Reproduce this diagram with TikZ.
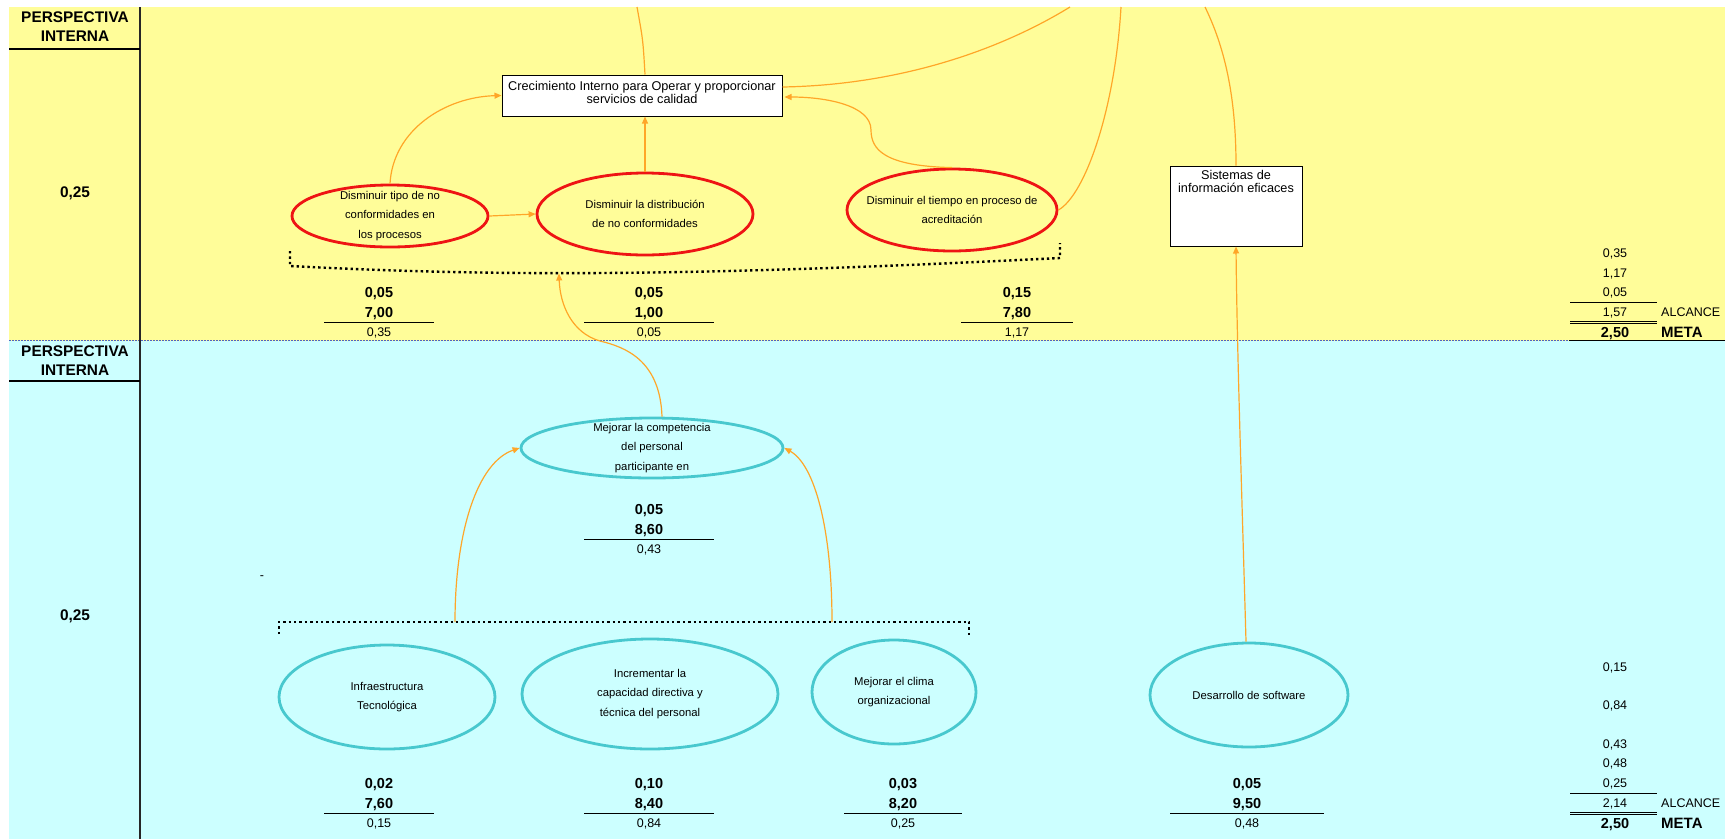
\documentclass[tikz,border=0pt]{standalone}
\usepackage{fontspec}
\setmainfont{Liberation Sans}
\usetikzlibrary{arrows.meta,shapes.geometric,calc}

\definecolor{bandY}{RGB}{255,253,153}
\definecolor{bandC}{RGB}{204,255,255}
\definecolor{redring}{RGB}{238,20,20}
\definecolor{cyanring}{RGB}{72,200,206}
\definecolor{linkc}{RGB}{255,166,40}
\definecolor{pagebrk}{RGB}{80,100,190}

\tikzset{
  x=1pt, y=-1pt,
  redobj/.style={ellipse, draw=redring, line width=2.8pt, inner sep=0pt},
  cyanobj/.style={ellipse, draw=cyanring, line width=2.8pt, inner sep=0pt},
  etext/.style={align=center, inner sep=0pt, font=\fontsize{11.3}{19.5}\selectfont},
  goalbox/.style={rectangle, draw=black, fill=white, line width=1pt, inner sep=0pt},
  btext/.style={align=center, inner sep=0pt, font=\fontsize{12.7}{13.5}\selectfont},
  link/.style={draw=linkc, line width=1.2pt},
  linkarrow/.style={link, -{Triangle[length=7pt,width=6pt]}},
  bnum/.style={inner sep=0pt, text height=10pt, text depth=0pt, font=\fontsize{14.5}{14.5}\selectfont\bfseries},
  rnum/.style={inner sep=0pt, text height=9pt, text depth=0pt, font=\fontsize{12.5}{12.5}\selectfont},
  hdr/.style={align=center, inner sep=0pt, font=\fontsize{15.4}{19}\selectfont\bfseries},
  bracket/.style={line width=2.4pt, dash pattern=on 2.4pt off 3pt},
  rule/.style={line width=1pt},
}

% one score column: weight, rating, rule and weighted result
\newcommand\scorecol[7]{%
  \node[bnum] (#1w) at (#2,#3) {#4};
  \node[bnum] (#1r) at (#2,#3+20) {#5};
  \draw[rule] (#2-#7,#3+30) -- (#2+#7,#3+30);
  \node[rnum] (#1s) at (#2,#3+40) {#6};
}

\begin{document}
\begin{tikzpicture}
\useasboundingbox (0,0) rectangle (1731,839);

% bands
\fill[bandY] (9,7) rectangle (1725,340.5);
\fill[bandC] (9,340.5) rectangle (1725,839);
\draw[pagebrk, line width=1pt, dash pattern=on 1.5pt off 1.5pt] (9,340.5) -- (1569,340.5);
\draw[line width=1.2pt] (1569,340.5) -- (1725,340.5);

% left column
\draw[line width=1.6pt, black!85] (140,7) -- (140,839);
\draw[line width=1.2pt] (9,49) -- (140,49);
\draw[line width=1.2pt] (9,381) -- (140,381);
\node[hdr] (h1) at (75,26.5) {PERSPECTIVA\\INTERNA};
\node[hdr] (w1) at (75,193) {0,25};
\node[hdr] (h2) at (75,360.5) {PERSPECTIVA\\INTERNA};
\node[hdr] (w2) at (75,616) {0,25};

% goals
\node[goalbox, minimum width=280pt, minimum height=41pt] (crec) at (642,95.5) {};
\node[btext] (crect) at (642,92.5) {Crecimiento Interno para Operar y proporcionar\\servicios de calidad};
\node[goalbox, minimum width=132pt, minimum height=80pt] (sist) at (1236,206) {};
\node[btext, anchor=north] (sistt) at (1236,170) {Sistemas de\\información eficaces};

% objectives, upper band
\node[redobj, minimum width=196pt, minimum height=62pt,
  label={[etext]center:Disminuir tipo de no\\conformidades en\\los procesos}] (e1) at (390,216) {};
\node[redobj, minimum width=216pt, minimum height=82pt,
  label={[etext]center:Disminuir la distribución\\de no conformidades}] (e2) at (645,214) {};
\node[redobj, minimum width=210pt, minimum height=82pt,
  label={[etext]center:Disminuir el tiempo en proceso de\\acreditación}] (e3) at (952,210) {};

% objectives, lower band
\node[cyanobj, minimum width=262pt, minimum height=60pt,
  label={[etext]center:Mejorar la competencia\\del personal\\participante en}] (mej) at (652,448) {};
\node[cyanobj, minimum width=216pt, minimum height=104pt,
  label={[etext]center:Infraestructura\\Tecnológica}] (inf) at (387,697) {};
\node[cyanobj, minimum width=256pt, minimum height=110pt,
  label={[etext]center:Incrementar la\\capacidad directiva y\\técnica del personal}] (inc) at (650,694) {};
\node[cyanobj, minimum width=164pt, minimum height=104pt,
  label={[etext]center:Mejorar el clima\\organizacional}] (cli) at (894,692) {};
\node[cyanobj, minimum width=198pt, minimum height=104pt,
  label={[etext]center:Desarrollo de software}] (des) at (1249,695) {};

% grouping brackets
\draw[bracket] (290,251) -- (290,266) .. controls (500,277) and (700,276) .. (1060,258) -- (1060,243);
\draw[bracket] (279,634) -- (279,622) -- (969,622) -- (969,636);
\coordinate (brkA) at (559,273.5);
\coordinate (brkB) at (455,622);
\coordinate (brkC) at (832,622);

% links leaving the upper edge
\coordinate (up1) at (637,7);
\coordinate (up2) at (1070,7);
\coordinate (up3) at (1121,7);
\coordinate (up4) at (1205,7);
\draw[link] ($(crec.north)+(3,0)$) .. controls (643,40) .. (up1);
\draw[link] ($(crec.east)+(0,-8.5)$) .. controls (900,85) and (1000,50) .. (up2);
\draw[link] (e3.east) .. controls (1085,195) and (1115,110) .. (up3);
\draw[link] (sist.north) .. controls (1236,100) and (1226,50) .. (up4);

% cause-effect arrows
\draw[linkarrow] (e1.north) .. controls (393,130) and (445,97) .. (crec.west);
\draw[linkarrow] (e1.east) -- (e2.west);
\draw[linkarrow] (e2.north) -- (e2.north |- crec.south);
\draw[linkarrow] (e3.north) .. controls (885,166) and (871,150) .. (871,130)
  .. controls (871,105) and (825,97) .. ($(crec.east)+(2,1.5)$);
\draw[linkarrow] ($(mej.north)+(10,0)$) .. controls (660,360) and (625,347) .. (600,341)
  .. controls (572,333) and (560,305) .. (brkA);
\draw[linkarrow] (brkB) .. controls (455,530) and (478,462) .. (mej.west);
\draw[linkarrow] (brkC) .. controls (832,530) and (815,465) .. (mej.east);
\draw[linkarrow] ($(des.north)+(-3,0)$) .. controls (1242,500) and (1237,350) .. (sist.south);

% score columns
\scorecol{ca}{379}{292}{0,05}{7,00}{0,35}{55}
\scorecol{cb}{649}{292}{0,05}{1,00}{0,05}{65}
\scorecol{cc}{1017}{292}{0,15}{7,80}{1,17}{56}
\scorecol{cd}{649}{509}{0,05}{8,60}{0,43}{65}
\scorecol{ce}{379}{783}{0,02}{7,60}{0,15}{55}
\scorecol{cf}{649}{783}{0,10}{8,40}{0,84}{65}
\scorecol{cg}{903}{783}{0,03}{8,20}{0,25}{59}
\scorecol{ch}{1247}{783}{0,05}{9,50}{0,48}{77}

\node[rnum] (dash) at (262,575) {-};

% totals, upper band
\node[rnum] (ta1) at (1615,253) {0,35};
\node[rnum] (ta2) at (1615,273) {1,17};
\node[rnum] (ta3) at (1615,292) {0,05};
\draw[rule] (1570,302) -- (1657,302);
\node[rnum] (ta4) at (1615,312) {1,57};
\node[rnum, anchor=west] (ta5) at (1661,312) {ALCANCE};
\draw[rule] (1570,321) -- (1657,321);
\draw[rule] (1570,323.5) -- (1657,323.5);
\node[bnum] (ta6) at (1615,332) {2,50};
\node[bnum, anchor=west, font=\fontsize{15}{15}\selectfont\bfseries] (ta7) at (1661,332) {META};

% totals, lower band
\node[rnum] (tb1) at (1615,667) {0,15};
\node[rnum] (tb2) at (1615,705) {0,84};
\node[rnum] (tb3) at (1615,744) {0,43};
\node[rnum] (tb4) at (1615,763) {0,48};
\node[rnum] (tb5) at (1615,783) {0,25};
\draw[rule] (1570,793) -- (1657,793);
\node[rnum] (tb6) at (1615,803) {2,14};
\node[rnum, anchor=west] (tb7) at (1661,803) {ALCANCE};
\draw[rule] (1570,812) -- (1657,812);
\draw[rule] (1570,814.5) -- (1657,814.5);
\node[bnum] (tb8) at (1615,823) {2,50};
\node[bnum, anchor=west, font=\fontsize{15}{15}\selectfont\bfseries] (tb9) at (1661,823) {META};
\end{tikzpicture}
\end{document}
